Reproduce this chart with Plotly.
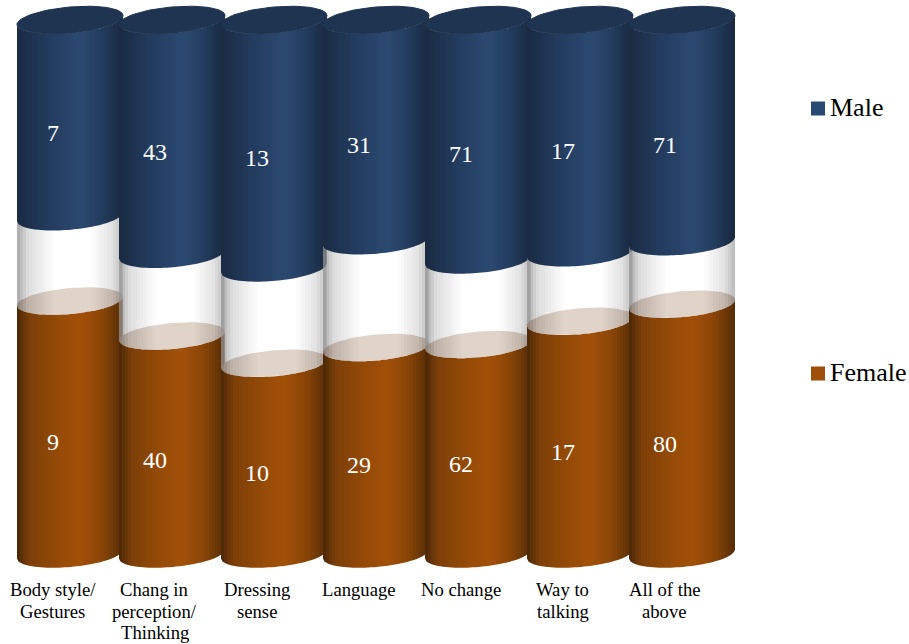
import numpy as np
import plotly.graph_objects as go

# ---- data ----
categories = ["Body style/<br>Gestures", "Chang in<br>perception/<br>Thinking", "Dressing<br>sense",
              "Language", "No change", "Way to<br>talking", "All of the<br>above"]
female = [9, 40, 10, 29, 62, 17, 80]
other = [3, 15, 5, 15, 25, 5, 20]      # unlabelled glass segment
male = [7, 43, 13, 31, 71, 17, 71]

# ---- drawing style ----
FONT = "Liberation Serif"
W, H = 909, 644
PITCH = 102.0           # px per category
X0_PX = 70.0            # px of first category
Y0_PX, SPAN_PX = 554.0, 534.0   # px of 0 %, px of 100 %
RX_PX, RY_PX, SHEAR = 53.0, 13.0, 0.085
STRIP_PX = 3

male_grad = [(0, (25, 42, 65)), (.1, (29, 49, 77)), (.35, (36, 62, 98)), (.6, (43, 73, 112)),
             (.8, (35, 61, 95)), (1, (24, 40, 62))]
female_grad = [(0, (74, 38, 6)), (.12, (124, 63, 7)), (.4, (150, 75, 7)), (.6, (162, 80, 8)),
               (.8, (138, 69, 7)), (1, (85, 44, 5))]
glass_grad = [(0, (139, 139, 139)), (.1, (208, 208, 208)), (.35, (255, 255, 255)), (.7, (255, 255, 255)),
              (.9, (215, 215, 215)), (1, (160, 160, 160))]
GLASS_ALPHA = 0.75


def grad(stops, t, alpha=1.0):
    ts = [s[0] for s in stops]
    c = [np.interp(t, ts, [s[1][k] for s in stops]) for k in range(3)]
    return f"rgba({c[0]:.0f},{c[1]:.0f},{c[2]:.0f},{alpha})"


def arc_y(y_c, dx_px, sign):
    """y (in % units) on a tilted ellipse at dx_px from its centre; sign=-1 front arc, +1 back arc."""
    u = np.clip(dx_px / RX_PX, -1, 1)
    py = SHEAR * dx_px + sign * RY_PX * np.sqrt(1 - u ** 2)
    return y_c + py / (SPAN_PX / 100.0)


def add_segment(fig, cx, lo, hi, stops, alpha=1.0):
    edges = list(range(0, int(2 * RX_PX), STRIP_PX)) + [int(2 * RX_PX)]
    for a, b in zip(edges[:-1], edges[1:]):
        pts = np.array([a, (a + b) / 2, b], dtype=float) - RX_PX
        xs = cx + pts / PITCH
        top = arc_y(hi, pts, -1)
        bot = arc_y(lo, pts, -1)
        fig.add_trace(go.Scatter(
            x=np.r_[xs, xs[::-1], xs[0]], y=np.r_[top, bot[::-1], top[0]],
            mode="lines", line=dict(width=0), fill="toself",
            fillcolor=grad(stops, (a + b) / 2 / (2 * RX_PX), alpha),
            hoverinfo="skip", showlegend=False))


def add_cap(fig, cx, y_c, color, edge=0):
    t = np.linspace(0, 2 * np.pi, 90)
    dx = RX_PX * np.cos(t)
    ys = y_c + (SHEAR * dx + RY_PX * np.sin(t)) / (SPAN_PX / 100.0)
    fig.add_trace(go.Scatter(x=cx + dx / PITCH, y=ys, mode="lines", line=dict(width=edge, color=color),
                             fill="toself", fillcolor=color, hoverinfo="skip", showlegend=False))


fig = go.Figure()
lab_x, lab_y_m, lab_y_f = [], [], []
for i, (f, o, m) in enumerate(zip(female, other, male)):
    total = f + o + m
    pf, po = 100 * f / total, 100 * o / total
    add_segment(fig, i, 0, pf, female_grad)
    add_cap(fig, i, pf, "#834f2b")
    add_segment(fig, i, pf, pf + po, glass_grad, GLASS_ALPHA)
    add_segment(fig, i, pf + po, 100, male_grad)
    add_cap(fig, i, 100, "#1f3450", edge=1)
    off = 16.5 / (SPAN_PX / 100.0)
    lab_x.append(i - 17 / PITCH)
    lab_y_f.append(pf / 2 - off)
    lab_y_m.append((pf + po + 100) / 2 - off)

label_font = dict(family=FONT, size=24, color="white")
fig.add_trace(go.Scatter(x=lab_x, y=lab_y_m, mode="text", text=[str(v) for v in male], name="Male",
                         textfont=label_font, textposition="middle center", hoverinfo="skip", showlegend=False))
fig.add_trace(go.Scatter(x=lab_x, y=lab_y_f, mode="text", text=[str(v) for v in female], name="Female",
                         textfont=label_font, textposition="middle center", hoverinfo="skip", showlegend=False))

annotations = []
for i, cat in enumerate(categories):
    for k, line in enumerate(cat.split("<br>")):
        annotations.append(dict(x=i - 17.5 / PITCH, xref="x", y=1 - (589.5 + 21.5 * k) / H, yref="paper",
                                text=line, showarrow=False, xanchor="center", yanchor="middle",
                                font=dict(family=FONT, size=18.67, color="#000000")))

shapes = []
for name, col, yc in [("Male", "#264a73", 108.5), ("Female", "#a04f08", 373.5)]:
    shapes.append(dict(type="rect", xref="paper", yref="paper", x0=811 / W, x1=825 / W,
                       y0=1 - (yc + 7) / H, y1=1 - (yc - 7) / H, fillcolor=col, line=dict(width=0)))
    annotations.append(dict(x=827.5 / W, xref="paper", y=1 - (yc - 0.5) / H, yref="paper", text=name,
                            showarrow=False, xanchor="left", yanchor="middle",
                            font=dict(family=FONT, size=26, color="#000000")))

fig.update_layout(
    width=W, height=H, margin=dict(l=0, r=0, t=0, b=0), paper_bgcolor="white", plot_bgcolor="white",
    showlegend=False, annotations=annotations, shapes=shapes,
    xaxis=dict(visible=False, range=[-X0_PX / PITCH, (W - X0_PX) / PITCH], fixedrange=True),
    yaxis=dict(visible=False, range=[(Y0_PX - H) / (SPAN_PX / 100.0), Y0_PX / (SPAN_PX / 100.0)], fixedrange=True),
)
fig.write_html("out.html", config=dict(displayModeBar=False),
               post_script="document.body.style.margin='0';")
